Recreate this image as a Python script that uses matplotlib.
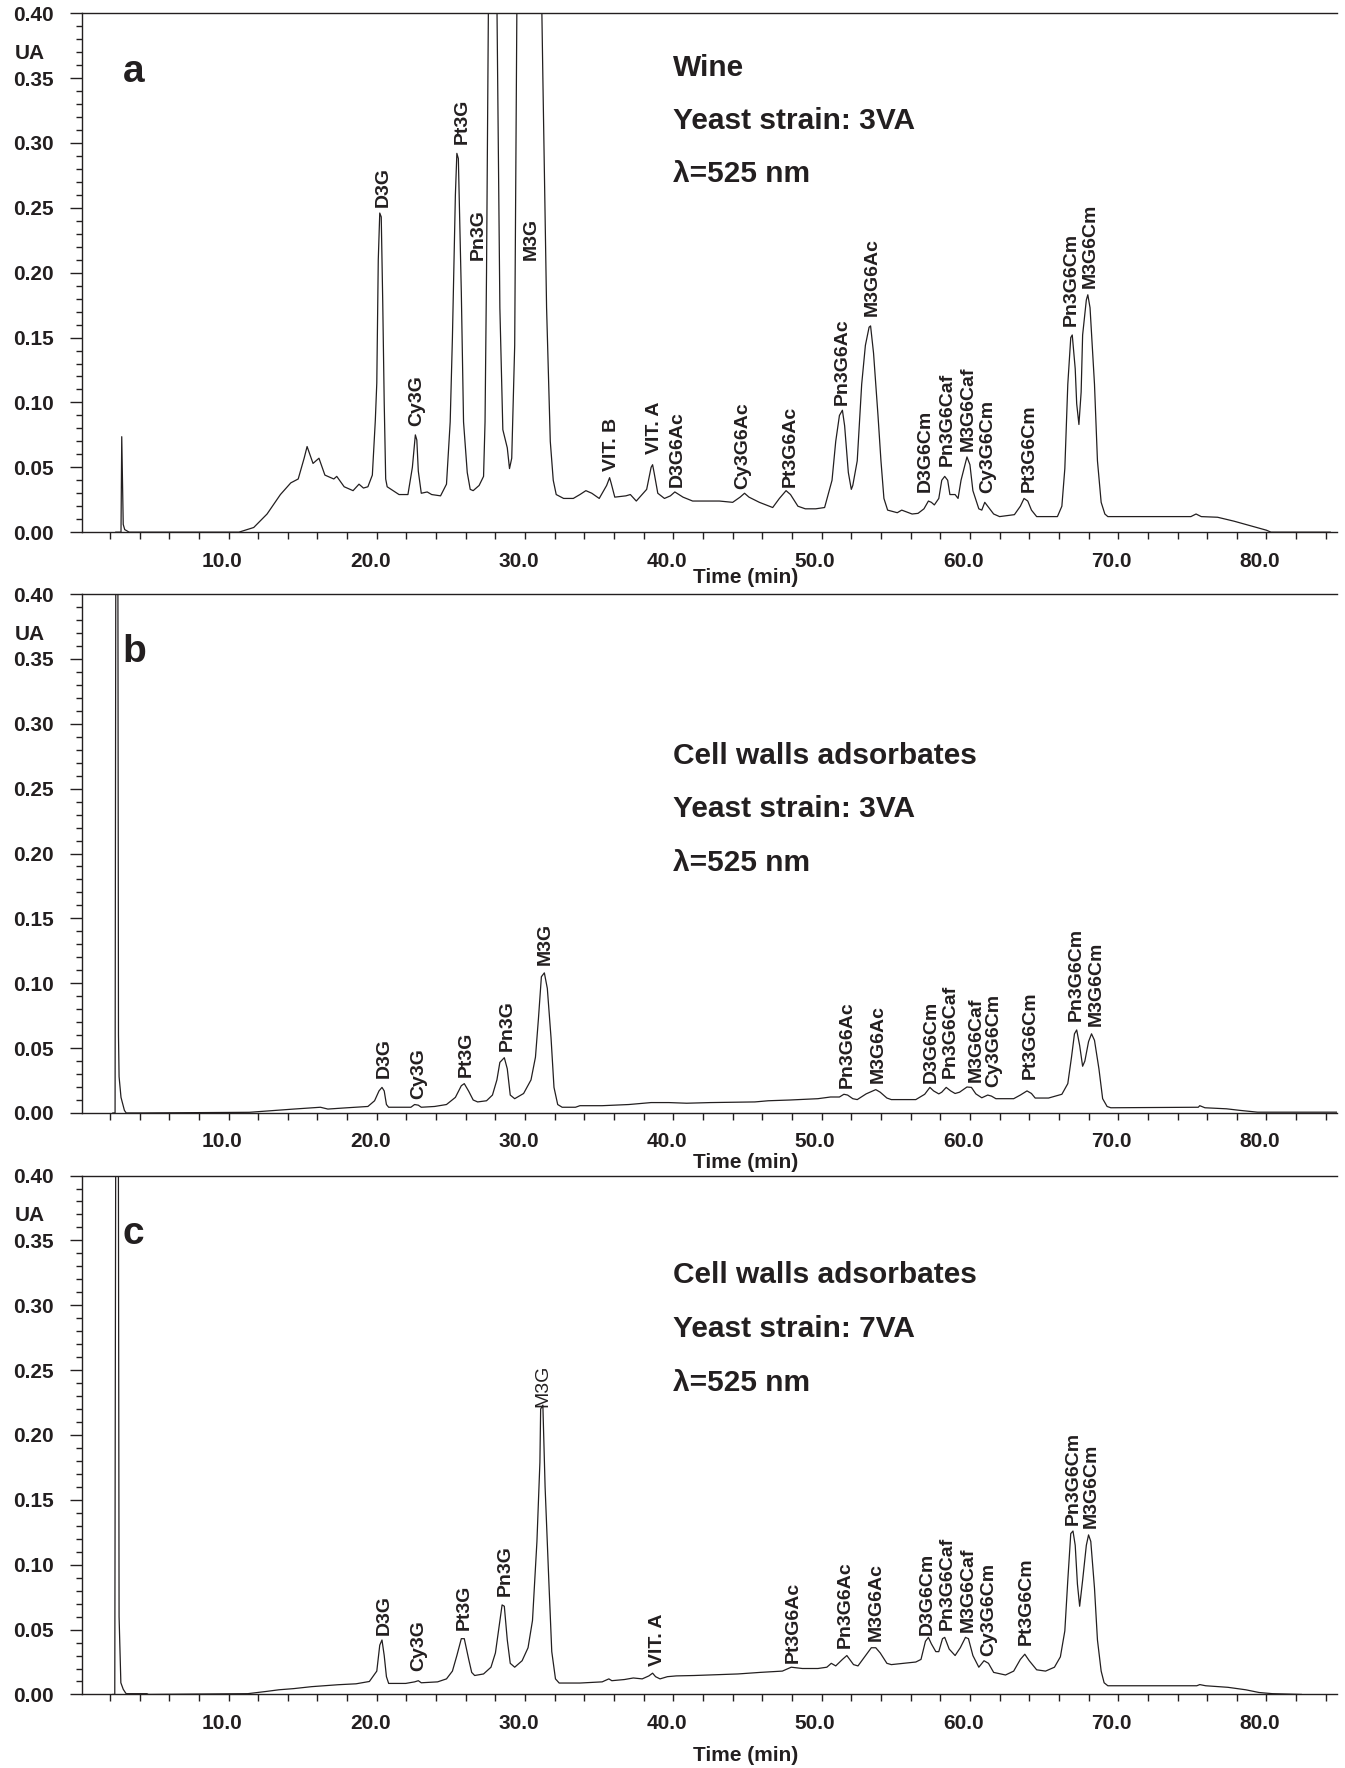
import matplotlib
matplotlib.use('Agg')
import matplotlib.pyplot as plt
import matplotlib.transforms as mtrans
from matplotlib.ticker import MultipleLocator

plt.rcParams['font.family'] = ['Liberation Sans', 'DejaVu Sans']
plt.rcParams['font.weight'] = 'bold'

INK = '#231f20'

# ---- axes ticks / labels ----
x_ticks = [10, 20, 30, 40, 50, 60, 70, 80]
x_tick_labels = ['10.0', '20.0', '30.0', '40.0', '50.0', '60.0', '70.0', '80.0']
y_ticks = [0.0, 0.05, 0.10, 0.15, 0.20, 0.25, 0.30, 0.35, 0.40]
y_tick_labels = ['0.00', '0.05', '0.10', '0.15', '0.20', '0.25', '0.30', '0.35', '0.40']

# ---- panel a : wine, strain 3VA (values above 0.40 are off scale, guessed) ----
a_time = [2.4, 2.75, 2.8, 2.9, 3.0, 3.3, 8.8, 10.7, 11.7, 12.6, 13.5, 14.2, 14.7, 15.1, 15.3, 15.7,
          16.1, 16.5, 17.1, 17.3, 17.8, 18.4, 18.8, 19.1, 19.4, 19.7, 19.9, 20.0, 20.1, 20.2, 20.3,
          20.4, 20.5, 20.6, 20.7, 21.1, 21.5, 22.1, 22.4, 22.6, 22.7, 22.8, 23.0, 23.4, 23.7, 24.3,
          24.7, 24.95, 25.1, 25.3, 25.4, 25.5, 25.7, 25.85, 26.1, 26.3, 26.5, 26.9, 27.2, 27.3, 27.4,
          27.53, 27.8, 28.1, 28.3, 28.5, 28.8, 28.95, 29.1, 29.3, 29.45, 30.3, 31.12, 31.2, 31.45,
          31.7, 31.9, 32.1, 32.6, 33.25, 33.7, 34.1, 34.5, 35.0, 35.5, 35.7, 35.8, 36.05, 36.8, 37.1,
          37.5, 38.2, 38.5, 38.6, 38.7, 38.95, 39.4, 39.8, 40.1, 40.65, 41.3, 42.2, 43.1, 44.0, 44.5,
          44.8, 45.1, 45.8, 46.7, 47.15, 47.6, 47.9, 48.4, 48.9, 49.6, 50.2, 50.7, 50.95, 51.2, 51.4,
          51.55, 51.8, 52.0, 52.1, 52.4, 52.7, 52.95, 53.2, 53.3, 53.5, 53.8, 54.0, 54.2, 54.45, 55.1,
          55.4, 56.1, 56.5, 56.9, 57.2, 57.4, 57.6, 57.9, 58.1, 58.3, 58.5, 58.65, 59.0, 59.2, 59.4,
          59.8, 60.0, 60.2, 60.6, 60.8, 61.0, 61.2, 61.6, 62.0, 63.0, 63.4, 63.65, 63.9, 64.15, 64.5,
          65.9, 66.2, 66.4, 66.6, 66.8, 66.9, 67.1, 67.2, 67.35, 67.5, 67.6, 67.85, 67.95, 68.1, 68.4,
          68.6, 68.85, 69.1, 69.3, 74.9, 75.25, 75.6, 76.7, 77.8, 78.9, 80.0, 80.3, 84.3]
a_ua = [0.0, 0.0, 0.0736, 0.006, 0.002, 0.0, 0.0, 0.0, 0.0036, 0.014, 0.029, 0.038, 0.041, 0.057,
        0.066, 0.053, 0.057, 0.044, 0.041, 0.043, 0.035, 0.032, 0.037, 0.034, 0.035, 0.044, 0.086,
        0.115, 0.21, 0.246, 0.243, 0.178, 0.10, 0.041, 0.035, 0.032, 0.029, 0.029, 0.05, 0.075,
        0.071, 0.047, 0.030, 0.031, 0.029, 0.028, 0.037, 0.085, 0.15, 0.26, 0.292, 0.288, 0.185,
        0.085, 0.046, 0.033, 0.032, 0.036, 0.043, 0.085, 0.20, 0.41, 0.9, 0.41, 0.173, 0.079, 0.065,
        0.049, 0.057, 0.144, 0.41, 1.5, 0.41, 0.35, 0.173, 0.07, 0.04, 0.029, 0.026, 0.026, 0.029,
        0.032, 0.030, 0.026, 0.036, 0.042, 0.038, 0.027, 0.028, 0.029, 0.024, 0.033, 0.05, 0.052,
        0.046, 0.030, 0.026, 0.028, 0.031, 0.027, 0.024, 0.024, 0.024, 0.023, 0.027, 0.030, 0.027,
        0.023, 0.019, 0.026, 0.032, 0.029, 0.020, 0.018, 0.018, 0.019, 0.040, 0.07, 0.09, 0.094,
        0.082, 0.046, 0.033, 0.036, 0.055, 0.114, 0.144, 0.158, 0.159, 0.138, 0.09, 0.055, 0.026,
        0.017, 0.015, 0.017, 0.014, 0.0145, 0.018, 0.024, 0.023, 0.021, 0.026, 0.040, 0.043, 0.040,
        0.029, 0.029, 0.026, 0.040, 0.058, 0.052, 0.032, 0.018, 0.017, 0.023, 0.020, 0.014, 0.012,
        0.0135, 0.020, 0.026, 0.024, 0.017, 0.012, 0.012, 0.020, 0.049, 0.114, 0.15, 0.152, 0.126,
        0.099, 0.083, 0.108, 0.152, 0.179, 0.183, 0.173, 0.114, 0.055, 0.023, 0.014, 0.012, 0.012,
        0.014, 0.012, 0.0115, 0.0085, 0.005, 0.0015, 0.0, 0.0]
a_names = ['D3G', 'Cy3G', 'Pt3G', 'Pn3G', 'M3G', 'VIT. B', 'VIT. A', 'D3G6Ac', 'Cy3G6Ac',
           'Pt3G6Ac', 'Pn3G6Ac', 'M3G6Ac', 'D3G6Cm', 'Pn3G6Caf', 'M3G6Caf', 'Cy3G6Cm',
           'Pt3G6Cm', 'Pn3G6Cm', 'M3G6Cm']
a_name_t = [20.45, 22.7, 25.74, 26.86, 30.45, 35.8, 38.75, 40.27, 44.7, 47.9, 51.4, 53.4, 57.0,
            58.5, 59.9, 61.2, 64.0, 66.85, 68.1]
a_name_y = [0.251, 0.082, 0.299, 0.21, 0.21, 0.047, 0.060, 0.035, 0.033, 0.0345, 0.098, 0.167,
            0.031, 0.051, 0.0625, 0.030, 0.031, 0.159, 0.188]
a_notes = ['Wine', 'Yeast strain: 3VA', 'λ=525 nm']
a_note_y = [0.358, 0.3172, 0.276]

# ---- panel b : cell walls adsorbates, strain 3VA ----
b_time = [2.2, 2.35, 2.42, 2.52, 2.58, 2.62, 2.75, 2.98, 3.1, 4.2, 11.4, 13.2, 14.4, 16.2, 16.7,
          18.0, 19.4, 19.85, 20.15, 20.35, 20.5, 20.65, 20.8, 22.3, 22.55, 22.8, 23.0, 23.9, 24.7,
          25.3, 25.7, 25.9, 26.2, 26.5, 26.8, 27.4, 27.8, 28.1, 28.3, 28.6, 28.8, 29.0, 29.3, 29.9,
          30.4, 30.7, 30.9, 31.1, 31.3, 31.5, 31.75, 31.95, 32.2, 32.5, 33.4, 33.7, 35.2, 37.0, 38.5,
          39.7, 40.9, 42.5, 45.5, 46.4, 47.9, 49.75, 50.6, 51.2, 51.5, 51.75, 52.1, 52.4, 53.0, 53.65,
          53.95, 54.4, 54.7, 56.35, 56.95, 57.3, 57.55, 57.9, 58.1, 58.4, 58.7, 59.0, 59.3, 59.8,
          60.1, 60.4, 60.8, 61.2, 61.45, 61.75, 62.95, 63.4, 63.85, 64.15, 64.4, 65.3, 66.2, 66.6,
          66.85, 67.05, 67.2, 67.4, 67.6, 67.75, 68.0, 68.2, 68.4, 68.7, 68.95, 69.25, 69.5, 75.4,
          75.5, 75.85, 77.3, 78.2, 79.4, 84.8]
b_ua = [0.0, 0.0, 0.6, 0.6, 0.06, 0.028, 0.012, 0.002, 0.0, 0.0, 0.0005, 0.002, 0.003, 0.0044,
        0.003, 0.004, 0.005, 0.0094, 0.017, 0.0197, 0.017, 0.0065, 0.0044, 0.0044, 0.0065, 0.006,
        0.0044, 0.005, 0.0065, 0.012, 0.021, 0.0226, 0.0167, 0.010, 0.0085, 0.0094, 0.0138, 0.0255,
        0.039, 0.0426, 0.034, 0.0138, 0.011, 0.015, 0.0255, 0.043, 0.0725, 0.105, 0.108, 0.096,
        0.058, 0.0197, 0.0065, 0.0044, 0.0044, 0.0056, 0.0056, 0.0065, 0.008, 0.008, 0.0075, 0.008,
        0.0085, 0.0094, 0.010, 0.011, 0.0123, 0.0123, 0.0144, 0.0138, 0.011, 0.0103, 0.0147, 0.018,
        0.016, 0.0115, 0.0103, 0.0103, 0.0144, 0.0197, 0.017, 0.0147, 0.016, 0.0197, 0.017, 0.015,
        0.016, 0.020, 0.0197, 0.0147, 0.0117, 0.0138, 0.013, 0.011, 0.011, 0.0138, 0.017, 0.015,
        0.0115, 0.0115, 0.0144, 0.0226, 0.043, 0.061, 0.064, 0.052, 0.036, 0.040, 0.055, 0.061,
        0.056, 0.034, 0.011, 0.005, 0.004, 0.0044, 0.0056, 0.004, 0.0032, 0.002, 0.0006, 0.0006]
b_names = ['D3G', 'Cy3G', 'Pt3G', 'Pn3G', 'M3G', 'Pn3G6Ac', 'M3G6Ac', 'D3G6Cm', 'Pn3G6Caf',
           'M3G6Caf', 'Cy3G6Cm', 'Pt3G6Cm', 'Pn3G6Cm', 'M3G6Cm']
b_name_t = [20.5, 22.86, 26.0, 28.8, 31.35, 51.7, 53.8, 57.4, 58.7, 60.4, 61.6, 64.1, 67.2, 68.55]
b_name_y = [0.027, 0.011, 0.028, 0.048, 0.114, 0.019, 0.023, 0.023, 0.027, 0.024, 0.020, 0.026,
            0.071, 0.067]
b_notes = ['Cell walls adsorbates', 'Yeast strain: 3VA', 'λ=525 nm']
b_note_y = [0.275, 0.234, 0.193]

# ---- panel c : cell walls adsorbates, strain 7VA ----
c_time = [2.2, 2.33, 2.42, 2.55, 2.62, 2.74, 2.9, 3.04, 3.1, 4.5, 4.6, 11.3, 12.6, 13.4, 14.4,
          15.6, 16.8, 17.4, 18.6, 19.5, 20.0, 20.2, 20.35, 20.5, 20.65, 20.8, 21.95, 22.55, 22.8,
          23.0, 24.1, 24.7, 25.1, 25.4, 25.7, 25.9, 26.2, 26.4, 26.6, 27.2, 27.7, 28.0, 28.3, 28.45,
          28.6, 28.8, 29.0, 29.3, 29.8, 30.2, 30.5, 30.8, 31.0, 31.05, 31.2, 31.35, 31.6, 31.8, 32.05,
          32.3, 33.7, 35.2, 35.65, 35.85, 36.7, 37.3, 37.9, 38.35, 38.6, 38.8, 39.1, 39.6, 40.2, 41.4,
          44.35, 45.85, 47.35, 47.95, 48.7, 49.75, 50.35, 50.65, 50.95, 51.4, 51.7, 52.15, 52.45,
          52.9, 53.35, 53.65, 53.95, 54.4, 54.7, 56.35, 56.7, 57.0, 57.2, 57.4, 57.7, 57.9, 58.15,
          58.3, 58.6, 59.0, 59.35, 59.7, 59.9, 60.2, 60.6, 60.95, 61.25, 61.6, 62.4, 62.95, 63.4,
          63.7, 64.0, 64.5, 65.1, 65.7, 66.1, 66.4, 66.6, 66.8, 66.95, 67.1, 67.25, 67.4, 67.6,
          67.85, 68.0, 68.15, 68.4, 68.6, 68.85, 69.05, 69.3, 75.3, 75.5, 75.9, 77.4, 78.6, 79.5,
          80.4, 82.35]
c_ua = [0.0, 0.0, 0.6, 0.6, 0.06, 0.009, 0.004, 0.0015, 0.0006, 0.0006, 0.0, 0.0006, 0.0024,
        0.0036, 0.0045, 0.006, 0.007, 0.0075, 0.0082, 0.010, 0.018, 0.038, 0.042, 0.030, 0.0137,
        0.0085, 0.0085, 0.0097, 0.0106, 0.009, 0.0097, 0.012, 0.018, 0.030, 0.043, 0.043, 0.027,
        0.017, 0.0146, 0.0158, 0.021, 0.032, 0.057, 0.069, 0.068, 0.042, 0.024, 0.021, 0.026, 0.036,
        0.057, 0.118, 0.179, 0.22, 0.223, 0.16, 0.088, 0.033, 0.012, 0.0088, 0.0088, 0.0097, 0.012,
        0.0106, 0.0115, 0.0127, 0.012, 0.0143, 0.0164, 0.0137, 0.012, 0.0137, 0.0143, 0.0146,
        0.0158, 0.017, 0.018, 0.021, 0.020, 0.020, 0.021, 0.024, 0.022, 0.027, 0.030, 0.023, 0.022,
        0.029, 0.036, 0.036, 0.032, 0.024, 0.023, 0.025, 0.027, 0.041, 0.044, 0.039, 0.033, 0.033,
        0.043, 0.044, 0.035, 0.030, 0.036, 0.044, 0.043, 0.030, 0.021, 0.026, 0.024, 0.017, 0.015,
        0.018, 0.027, 0.031, 0.026, 0.019, 0.018, 0.021, 0.029, 0.049, 0.088, 0.124, 0.126, 0.115,
        0.085, 0.068, 0.088, 0.115, 0.123, 0.118, 0.082, 0.042, 0.018, 0.009, 0.0067, 0.0067,
        0.0076, 0.0067, 0.0055, 0.0036, 0.0015, 0.0006, 0.0]
c_names = ['D3G', 'Cy3G', 'Pt3G', 'Pn3G', 'M3G', 'VIT. A', 'Pt3G6Ac', 'Pn3G6Ac', 'M3G6Ac',
           'D3G6Cm', 'Pn3G6Caf', 'M3G6Caf', 'Cy3G6Cm', 'Pt3G6Cm', 'Pn3G6Cm', 'M3G6Cm']
c_name_t = [20.5, 22.86, 25.9, 28.65, 31.2, 38.9, 48.1, 51.6, 53.7, 57.1, 58.5, 59.9, 61.3, 63.8,
            67.0, 68.2]
c_name_y = [0.0455, 0.018, 0.050, 0.076, 0.2215, 0.022, 0.024, 0.036, 0.041, 0.0455, 0.050,
            0.0485, 0.030, 0.038, 0.131, 0.128]
c_notes = ['Cell walls adsorbates', 'Yeast strain: 7VA', 'λ=525 nm']
c_note_y = [0.323, 0.282, 0.240]


def dibujar_panel(ax, t, ua, names, name_t, name_y, letra, notes, note_y, time_y, light=()):
    ax.plot(t, ua, color=INK, lw=0.9)
    ax.set_xlim(0.15, 84.75)
    ax.set_ylim(0, 0.40)

    ax.spines['right'].set_visible(False)
    for s in ['left', 'top', 'bottom']:
        ax.spines[s].set_linewidth(1.0)
        ax.spines[s].set_color(INK)

    ax.set_xticks(x_ticks)
    ax.set_xticklabels(x_tick_labels)
    ax.xaxis.set_minor_locator(MultipleLocator(2))
    ax.set_yticks(y_ticks)
    ax.set_yticklabels(y_tick_labels)
    ax.yaxis.set_minor_locator(MultipleLocator(0.01))
    ax.tick_params(axis='x', which='both', direction='out', length=5, width=1, color=INK,
                   pad=9, labelsize=15, labelcolor=INK)
    ax.tick_params(axis='y', which='major', direction='out', length=8.5, width=1, color=INK,
                   pad=12, labelsize=15, labelcolor=INK)
    ax.tick_params(axis='y', which='minor', direction='out', length=4.5, width=1, color=INK)

    # the x numbers sit a little left of their ticks in the original
    shift = mtrans.ScaledTranslation(-0.065, 0, ax.figure.dpi_scale_trans)
    for lbl in ax.get_xticklabels():
        lbl.set_transform(lbl.get_transform() + shift)

    ax.text(-3.4, 0.369, 'UA', fontsize=15, ha='center', va='center', color=INK, clip_on=False)
    ax.text(44.85, time_y, 'Time (min)', fontsize=15, ha='center', va='center', color=INK,
            clip_on=False)
    ax.text(2.85, 0.355, letra, fontsize=28, ha='left', va='center', color=INK)

    for n, y in zip(notes, note_y):
        ax.text(40.0, y, n, fontsize=21.5, ha='left', va='center', color=INK)

    for n, x, y in zip(names, name_t, name_y):
        w = 'normal' if n in light else 'bold'
        ax.text(x, y, n, rotation=90, fontsize=14, fontweight=w, ha='center', va='bottom',
                color=INK)


fig = plt.figure(figsize=(13.45, 17.68), dpi=100)
ax_a = fig.add_axes([0.0613, 0.699, 0.9327, 0.2935])
ax_b = fig.add_axes([0.0613, 0.3705, 0.9327, 0.2935])
ax_c = fig.add_axes([0.0613, 0.0416, 0.9327, 0.2935])

dibujar_panel(ax_a, a_time, a_ua, a_names, a_name_t, a_name_y, 'a', a_notes, a_note_y, -0.035)
dibujar_panel(ax_b, b_time, b_ua, b_names, b_name_t, b_name_y, 'b', b_notes, b_note_y, -0.038)
dibujar_panel(ax_c, c_time, c_ua, c_names, c_name_t, c_name_y, 'c', c_notes, c_note_y, -0.047,
              light=('M3G',))

fig.savefig('out.png', dpi=100)
